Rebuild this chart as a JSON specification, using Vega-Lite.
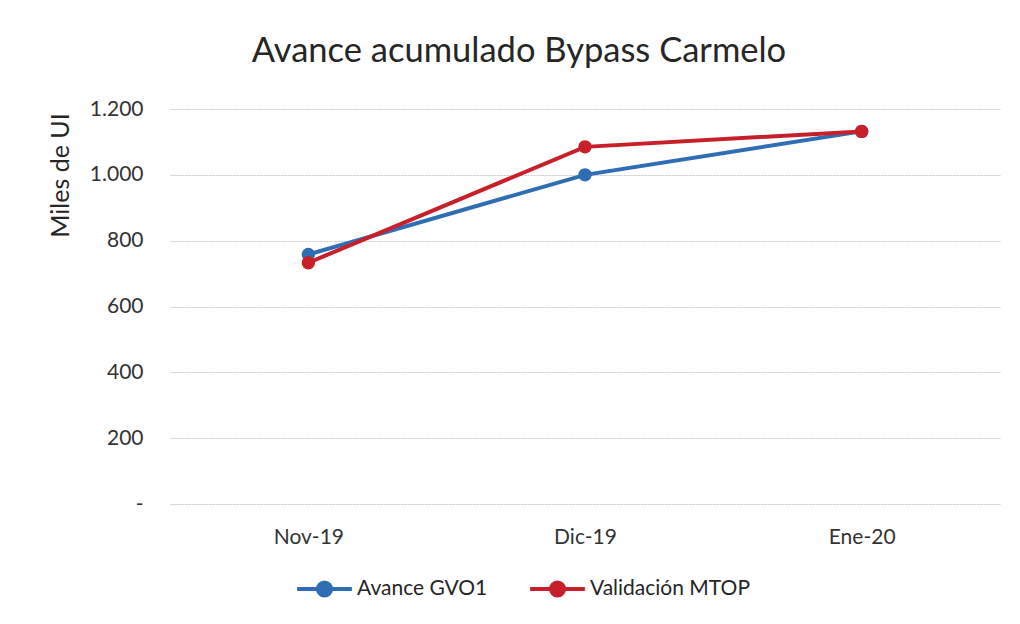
{
  "$schema": "https://vega.github.io/schema/vega-lite/v6.json",
  "autosize": "none",
  "width": 830,
  "height": 395,
  "padding": {"left": 170, "top": 109, "right": 20, "bottom": 120},
  "background": "white",
  "title": {
    "text": "Avance acumulado Bypass Carmelo",
    "font": "Lato",
    "fontSize": 34.5,
    "fontWeight": "normal",
    "color": "#262626",
    "anchor": "middle",
    "dx": -66,
    "offset": 29
  },
  "data": {
    "values": [
      {"mes": "Nov-19", "serie": "Avance GVO1", "valor": 758},
      {"mes": "Dic-19", "serie": "Avance GVO1", "valor": 1000},
      {"mes": "Ene-20", "serie": "Avance GVO1", "valor": 1132},
      {"mes": "Nov-19", "serie": "Validación MTOP", "valor": 733},
      {"mes": "Dic-19", "serie": "Validación MTOP", "valor": 1085},
      {"mes": "Ene-20", "serie": "Validación MTOP", "valor": 1132}
    ]
  },
  "config": {
    "view": {"stroke": null},
    "font": "Lato"
  },
  "mark": {"type": "line", "strokeWidth": 4, "point": {"size": 180, "filled": true}},
  "encoding": {
    "x": {
      "field": "mes",
      "type": "ordinal",
      "sort": null,
      "scale": {"type": "point", "padding": 0.5},
      "axis": {
        "title": null,
        "labelAngle": 0,
        "labelFontSize": 21,
        "labelColor": "#333333",
        "labelPadding": 22,
        "ticks": false,
        "domain": false,
        "grid": false
      }
    },
    "y": {
      "field": "valor",
      "type": "quantitative",
      "scale": {"domain": [0, 1200], "nice": false},
      "axis": {
        "title": "Miles de UI",
        "titleFontSize": 25,
        "titleFontWeight": "normal",
        "titleColor": "#262626",
        "titleAngle": -90,
        "titleX": -110,
        "titleY": 66,
        "titleAlign": "center",
        "titleBaseline": "middle",
        "values": [0, 200, 400, 600, 800, 1000, 1200],
        "labelExpr": "datum.value == 0 ? '-' : replace(format(datum.value, ','), ',', '.')",
        "labelFontSize": 21,
        "labelColor": "#333333",
        "labelPadding": 27,
        "ticks": false,
        "domain": false,
        "grid": true,
        "gridColor": "#c8c8c8",
        "gridDash": [2, 1],
        "gridWidth": 1
      }
    },
    "color": {
      "field": "serie",
      "type": "nominal",
      "scale": {"domain": ["Avance GVO1", "Validación MTOP"], "range": ["#2f6db5", "#c8202a"]},
      "legend": {
        "title": null,
        "orient": "none",
        "direction": "horizontal",
        "legendX": 125,
        "legendY": 450,
        "labelFontSize": 21,
        "labelLimit": 400,
        "labelColor": "#262626",
        "symbolType": "M-1,0L-0.26,0M0.26,0L1,0M-0.24,0A0.24,0.24 0 1,0 0.24,0A0.24,0.24 0 1,0 -0.24,0",
        "symbolSize": 3000,
        "symbolStrokeWidth": 4,
        "symbolFillColor": "transparent",
        "columnPadding": 34,
        "labelOffset": 3
      }
    }
  }
}
